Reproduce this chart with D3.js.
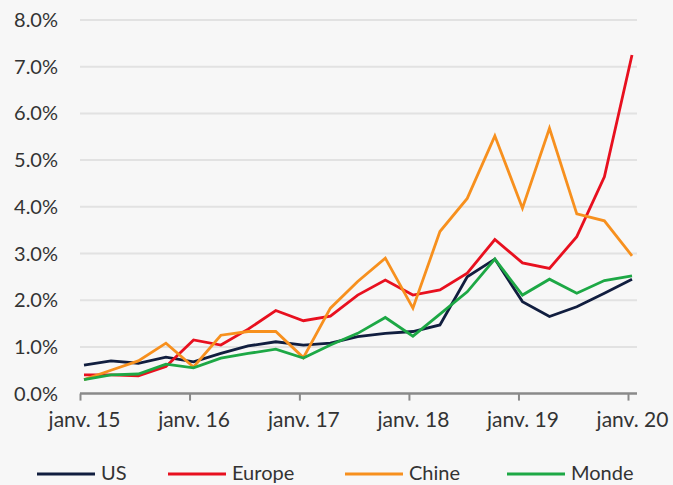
<!DOCTYPE html>
<html>
<head>
<meta charset="utf-8">
<script src="https://cdn.jsdelivr.net/npm/d3@7"></script>
<style>
  html, body { margin: 0; padding: 0; background: #f7f7f7; }
  svg { display: block; }
</style>
</head>
<body>
<div id="chart"></div>
<script>
// quarterly observations, janv. 15 -> janv. 20 (%)
const quarters = ["2015-01","2015-04","2015-07","2015-10",
                  "2016-01","2016-04","2016-07","2016-10",
                  "2017-01","2017-04","2017-07","2017-10",
                  "2018-01","2018-04","2018-07","2018-10",
                  "2019-01","2019-04","2019-07","2019-10",
                  "2020-01"];
const us     = [0.61,0.70,0.65,0.78,0.68,0.86,1.02,1.11,1.04,1.08,1.22,1.29,1.33,1.47,2.50,2.88,1.97,1.65,1.86,2.15,2.45];
const europe = [0.40,0.40,0.38,0.58,1.15,1.04,1.38,1.78,1.56,1.66,2.11,2.43,2.11,2.22,2.58,3.30,2.80,2.68,3.36,4.64,7.25];
const chine  = [0.30,0.50,0.70,1.08,0.57,1.25,1.33,1.33,0.77,1.83,2.40,2.90,1.83,3.47,4.18,5.52,3.97,5.68,3.85,3.70,2.95];
const monde  = [0.30,0.40,0.42,0.63,0.55,0.76,0.86,0.95,0.76,1.04,1.29,1.63,1.23,1.70,2.18,2.88,2.11,2.45,2.15,2.42,2.52];

const seriesNames  = ["US", "Europe", "Chine", "Monde"];
const seriesColors = ["#111e3f", "#e8101f", "#f7901e", "#1da845"];
const yTicks = [0, 1, 2, 3, 4, 5, 6, 7, 8];

const width = 673, height = 485;
const font = "Lato, 'Open Sans', sans-serif";

const parse = d3.timeParse("%Y-%m");
const dates = quarters.map(parse);
const series = [us, europe, chine, monde].map((vals, i) => ({
    name: seriesNames[i],
    color: seriesColors[i],
    values: vals.map((v, j) => ({ date: dates[j], value: v }))
}));

const svg = d3.select("#chart")
    .append("svg")
    .attr("width", width)
    .attr("height", height)
    .attr("font-family", font);

// scales
const x = d3.scaleTime()
    .domain([dates[0], dates[dates.length - 1]])
    .range([84, 632]);
const y = d3.scaleLinear()
    .domain([0, 8])
    .range([393.6, 20]);

const plotLeft = 80, plotRight = 637;

// gridlines
svg.append("g")
    .selectAll("line")
    .data(yTicks.filter(d => d > 0))
    .join("line")
    .attr("x1", plotLeft)
    .attr("x2", plotRight)
    .attr("y1", d => y(d))
    .attr("y2", d => y(d))
    .attr("stroke", "#e2e2e2")
    .attr("stroke-width", 2);

// y labels
svg.append("g")
    .selectAll("text")
    .data(yTicks)
    .join("text")
    .attr("x", 58)
    .attr("y", d => y(d))
    .attr("dy", "0.35em")
    .attr("text-anchor", "end")
    .attr("font-size", 20)
    .attr("fill", "#333")
    .text(d => d3.format(".1f")(d) + "%");

// x axis
const xAxis = d3.axisBottom(x)
    .ticks(d3.timeYear.every(1))
    .tickSizeOuter(0)
    .tickSize(0)
    .tickPadding(18)
    .tickFormat(d => "janv. " + d3.timeFormat("%y")(d));

const gx = svg.append("g")
    .attr("transform", `translate(0,${y(0)})`)
    .call(xAxis);
gx.select(".domain").remove();
gx.selectAll("text")
    .attr("font-size", 21)
    .attr("font-family", font)
    .attr("fill", "#333");
// tick marks sit a little left of the labels, as in the original
gx.selectAll(".tick").append("line")
    .attr("x1", -4).attr("x2", -4)
    .attr("y1", 0).attr("y2", 7)
    .attr("stroke", "#8a8a8a")
    .attr("stroke-width", 2);

svg.append("line")
    .attr("x1", plotLeft)
    .attr("x2", plotRight)
    .attr("y1", y(0))
    .attr("y2", y(0))
    .attr("stroke", "#8a8a8a")
    .attr("stroke-width", 2.5);

// lines
const line = d3.line()
    .x(d => x(d.date))
    .y(d => y(d.value));

svg.append("g")
    .selectAll("path")
    .data(series)
    .join("path")
    .attr("fill", "none")
    .attr("stroke", d => d.color)
    .attr("stroke-width", 2.8)
    .attr("stroke-linejoin", "miter")
    .attr("d", d => line(d.values));

// legend
const legendX = [37, 168, 345, 507];
const legend = svg.append("g")
    .selectAll("g")
    .data(series)
    .join("g")
    .attr("transform", (d, i) => `translate(${legendX[i]},474)`);

legend.append("line")
    .attr("x1", 0).attr("x2", 58)
    .attr("stroke", d => d.color)
    .attr("stroke-width", 3);

legend.append("text")
    .attr("x", 64)
    .attr("y", 6)
    .attr("font-size", 20)
    .attr("fill", "#333")
    .text(d => d.name);
</script>
</body>
</html>
